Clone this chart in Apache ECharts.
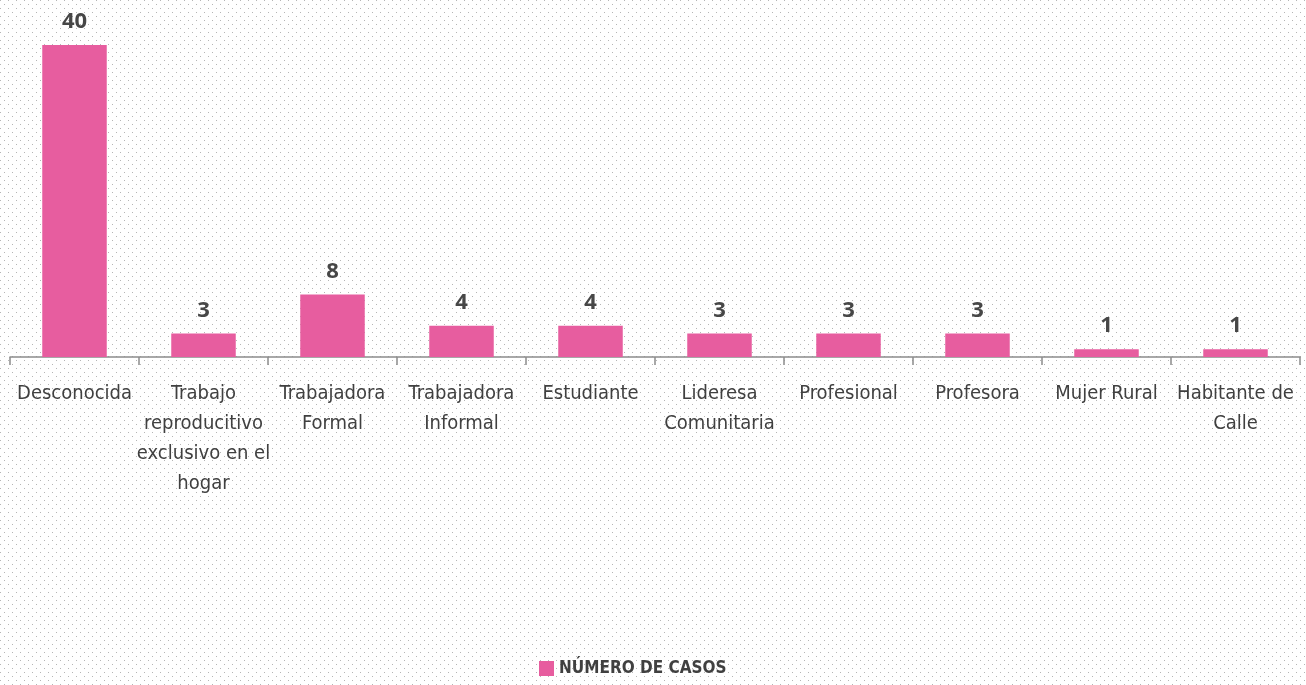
<!DOCTYPE html>
<html>
<head>
<meta charset="utf-8">
<script src="https://cdn.jsdelivr.net/npm/echarts@6/dist/echarts.min.js"></script>
<style>
  html, body { margin: 0; padding: 0; background: #fff; }
  #chart { width: 1306px; height: 685px; }
</style>
</head>
<body>
<div id="chart"></div>
<script>
// categories and counts
var categories = [
    'Desconocida',
    'Trabajo\nreproducitivo\nexclusivo en el\nhogar',
    'Trabajadora\nFormal',
    'Trabajadora\nInformal',
    'Estudiante',
    'Lideresa\nComunitaria',
    'Profesional',
    'Profesora',
    'Mujer Rural',
    'Habitante de\nCalle'
];
var casos = [40, 3, 8, 4, 4, 3, 3, 3, 1, 1];
var seriesName = 'NÚMERO DE CASOS';

// dotted paper background
function dotPattern() {
    var c = document.createElement('canvas');
    c.width = 8;
    c.height = 8;
    var ctx = c.getContext('2d');
    ctx.fillStyle = '#ffffff';
    ctx.fillRect(0, 0, 8, 8);
    ctx.fillStyle = '#b5b5b5';
    ctx.fillRect(0, 0, 1, 1);
    ctx.fillRect(4, 4, 1, 1);
    return c;
}

var narrow = '"DejaVu Sans Condensed", "Liberation Sans Narrow", "Roboto", sans-serif';

var option = {
    backgroundColor: { image: dotPattern(), repeat: 'repeat' },
    animation: false,
    grid: {
        left: 10,
        right: 6,
        top: 45,
        bottom: 328,
        containLabel: false
    },
    legend: {
        bottom: 3,
        left: 534,
        itemWidth: 15,
        itemHeight: 15,
        itemGap: 5,
        icon: 'rect',
        textStyle: {
            fontFamily: narrow,
            fontWeight: 'bold',
            fontSize: 17,
            color: '#404040'
        },
        data: [seriesName]
    },
    xAxis: {
        type: 'category',
        data: categories,
        axisLine: { lineStyle: { color: '#8c8c8c', width: 1.5 } },
        axisTick: { show: true, length: 8, lineStyle: { color: '#8c8c8c', width: 1.5 } },
        axisLabel: {
            interval: 0,
            margin: 22,
            fontFamily: narrow,
            fontSize: 20,
            lineHeight: 30,
            color: '#404040'
        }
    },
    yAxis: {
        type: 'value',
        min: 0,
        max: 40,
        show: false,
        splitLine: { show: false }
    },
    series: [{
        name: seriesName,
        type: 'bar',
        data: casos,
        barWidth: '50%',
        itemStyle: { color: '#E75D9F' },
        label: {
            show: true,
            position: 'top',
            distance: 12,
            fontFamily: '"Open Sans", sans-serif',
            fontWeight: 'bold',
            fontSize: 22,
            color: '#474747'
        }
    }]
};

var chart = echarts.init(document.getElementById('chart'));
chart.setOption(option);
</script>
</body>
</html>
